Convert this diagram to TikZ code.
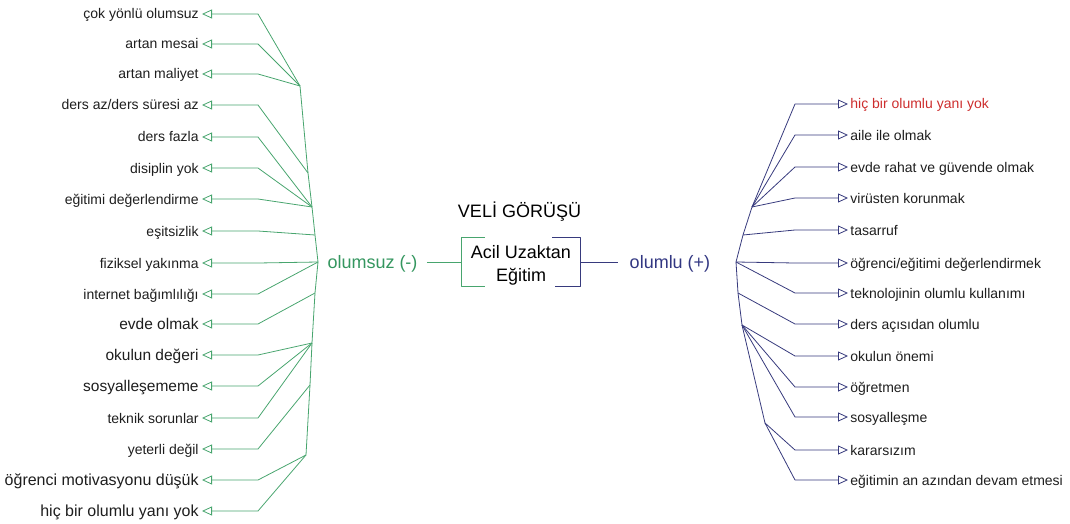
\documentclass[tikz,border=0pt]{standalone}
\usepackage{fontspec}
\setmainfont{Liberation Sans}
\usepackage{xcolor}
\usepackage{tikz}
\usetikzlibrary{arrows.meta,positioning}
\definecolor{greenline}{RGB}{72,165,110}
\definecolor{greentext}{RGB}{52,150,95}
\definecolor{blueline}{RGB}{55,58,125}
\definecolor{bluetext}{RGB}{50,55,130}
\definecolor{redtext}{RGB}{205,45,45}
\definecolor{labeltext}{RGB}{30,30,30}
\tikzset{every picture/.style={line width=0.8pt}}
\tikzset{
  lft/.style={anchor=east, inner xsep=3pt, inner ysep=0pt, text=labeltext,
    font=\fontsize{14}{16}\selectfont, text height=10pt, text depth=0pt},
  lftbig/.style={lft, font=\fontsize{15.5}{18}\selectfont, text height=11.2pt},
  lftbigger/.style={lft, font=\fontsize{16}{18}\selectfont, text height=11.5pt},
  rgt/.style={anchor=west, inner xsep=2pt, inner ysep=0pt, text=labeltext,
    font=\fontsize{14}{16}\selectfont, text height=10pt, text depth=0pt},
  mid/.style={inner sep=0pt, font=\fontsize{18}{23}\selectfont, text height=13pt, text depth=0pt},
  boxnode/.style={inner sep=0pt, minimum width=118pt, minimum height=48pt, align=center,
    font=\fontsize{18}{23}\selectfont},
  negw/.style={draw=greenline, line join=round},
  posw/.style={draw=blueline, line join=round},
  negarr/.style={negw, -{Triangle[open,length=10pt,width=9pt]}},
  posarr/.style={posw, -{Triangle[open,length=10pt,width=9pt]}}
}
\begin{document}
\begin{tikzpicture}[x=1pt,y=-1pt]
\useasboundingbox (0,0) rectangle (1070,524);
% centre
\node[mid] (title) at (519.5,211) {VELİ GÖRÜŞÜ};
\node[boxnode] (box) at (521,262) {\rule{0pt}{19pt}Acil Uzaktan\\Eğitim};
\node[mid, text=greentext] (neg) at (372.5,262) {olumsuz (-)};
\node[mid, text=bluetext] (plus) at (670,262) {olumlu (+)};
\draw[negw] ([xshift=23pt]box.north west) -- (box.north west) -- (box.south west) -- ([xshift=23pt]box.south west);
\draw[posw] ([xshift=-28pt]box.north east) -- (box.north east) -- (box.south east) -- ([xshift=-25pt]box.south east);
\draw[negw, shorten <=9pt] (neg.east) -- (box.west);
\draw[posw, shorten >=11pt] (box.east) -- (plus.west);
%
% olumsuz
\node[lft] (n1) at (202,14) {çok yönlü olumsuz};
\node[lft] (n2) at (202,44) {artan mesai};
\node[lft] (n3) at (202,74) {artan maliyet};
\node[lft] (n4) at (202,105) {ders az/ders süresi az};
\node[lft] (n5) at (202,137) {ders fazla};
\node[lft] (n6) at (202,168) {disiplin yok};
\node[lft] (n7) at (202,199) {eğitimi değerlendirme~};
\node[lft] (n8) at (202,231) {eşitsizlik};
\node[lft] (n9) at (202,263) {fiziksel yakınma};
\node[lft] (n10) at (202,294) {internet bağımlılığı};
\node[lftbig] (n11) at (202,324) {evde olmak};
\node[lftbig] (n12) at (202,355) {okulun değeri};
\node[lftbig] (n13) at (202,386) {sosyalleşememe~};
\node[lft] (n14) at (202,418) {teknik sorunlar};
\node[lft] (n15) at (202,449) {yeterli değil};
\node[lftbigger] (n16) at (202,480) {öğrenci motivasyonu düşük};
\node[lftbigger] (n17) at (202,511) {hiç bir olumlu yanı yok};
%
\coordinate (kl) at (258,0);
\coordinate (t1) at (300,86);
\coordinate (t2) at (308,173);
\coordinate (t3) at (312,207);
\coordinate (t4) at (315,235);
\coordinate (t5) at (318,262);
\coordinate (t6) at (315,293);
\coordinate (t7) at (312,343);
\coordinate (t8) at (310,385);
\coordinate (t9) at (306,455);
\draw[negw] (t1) -- (t2) -- (t3) -- (t4) -- (t5) -- (t6) -- (t7) -- (t8) -- (t9);
\foreach \i in {1,2,3} \draw[negarr] (t1) -- (kl |- n\i) -- (n\i.east);
\draw[negarr] (t2) -- (kl |- n4) -- (n4.east);
\foreach \i in {5,6,7} \draw[negarr] (t3) -- (kl |- n\i) -- (n\i.east);
\draw[negarr] (t4) -- (kl |- n8) -- (n8.east);
\foreach \i in {9,10} \draw[negarr] (t5) -- (kl |- n\i) -- (n\i.east);
\draw[negarr] (t6) -- (kl |- n11) -- (n11.east);
\foreach \i in {12,13,14} \draw[negarr] (t7) -- (kl |- n\i) -- (n\i.east);
\draw[negarr] (t8) -- (kl |- n15) -- (n15.east);
\foreach \i in {16,17} \draw[negarr] (t9) -- (kl |- n\i) -- (n\i.east);
%
% olumlu
\node[rgt, text=redtext] (p1) at (848,104) {hiç bir olumlu yanı yok};
\node[rgt] (p2) at (848,135) {aile ile olmak};
\node[rgt] (p3) at (848,167) {evde rahat ve güvende olmak};
\node[rgt] (p4) at (848,198) {virüsten korunmak};
\node[rgt] (p5) at (848,230) {tasarruf};
\node[rgt] (p6) at (848,263) {öğrenci/eğitimi değerlendirmek};
\node[rgt] (p7) at (848,293) {teknolojinin olumlu kullanımı};
\node[rgt] (p8) at (848,324) {ders açısıdan olumlu};
\node[rgt] (p9) at (848,356) {okulun önemi};
\node[rgt] (p10) at (848,387) {öğretmen};
\node[rgt] (p11) at (848,417) {sosyalleşme};
\node[rgt] (p12) at (848,450) {kararsızım};
\node[rgt] (p13) at (848,480) {eğitimin an azından devam etmesi};
%
\coordinate (kr) at (795,0);
\coordinate (r1) at (752,207);
\coordinate (r2) at (743,235);
\coordinate (r3) at (736,262);
\coordinate (r4) at (738,293);
\coordinate (r5) at (742,325);
\coordinate (r6) at (765,423);
\draw[posw] (r1) -- (r2) -- (r3) -- (r4) -- (r5) -- (r6);
\foreach \i in {1,2,3,4} \draw[posarr] (r1) -- (kr |- p\i) -- (p\i.west);
\draw[posarr] (r2) -- (kr |- p5) -- (p5.west);
\foreach \i in {6,7} \draw[posarr] (r3) -- (kr |- p\i) -- (p\i.west);
\draw[posarr] (r4) -- (kr |- p8) -- (p8.west);
\foreach \i in {9,10,11} \draw[posarr] (r5) -- (kr |- p\i) -- (p\i.west);
\foreach \i in {12,13} \draw[posarr] (r6) -- (kr |- p\i) -- (p\i.west);
\end{tikzpicture}
\end{document}
